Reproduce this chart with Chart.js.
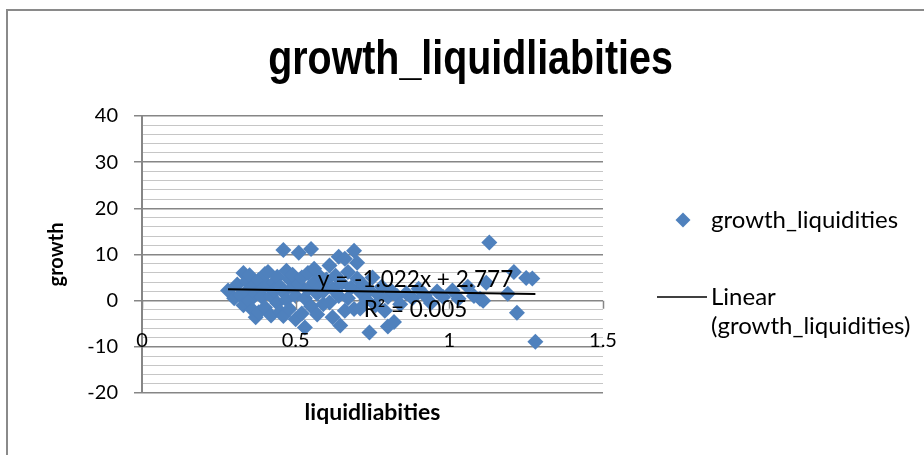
<!DOCTYPE html>
<html>
<head>
<meta charset="utf-8">
<title>growth_liquidliabities</title>
<script src="https://cdn.jsdelivr.net/npm/chart.js@4/dist/chart.umd.min.js"></script>
<style>
  html, body { margin: 0; padding: 0; background: #fff; }
  #wrap { width: 924px; height: 455px; position: relative; }
</style>
</head>
<body>
<div id="wrap"><canvas id="c" width="924" height="455"></canvas></div>
<script>
// Observations: liquid liabilities ratio (x) against growth (y)
const liquidliabities = [
  0.28, 0.30, 0.31, 0.32, 0.33, 0.33, 0.34, 0.34, 0.35, 0.35,
  0.36, 0.36, 0.37, 0.37, 0.38, 0.38, 0.39, 0.39, 0.40, 0.40,
  0.41, 0.41, 0.42, 0.42, 0.43, 0.43, 0.44, 0.44, 0.45, 0.45,
  0.46, 0.46, 0.46, 0.47, 0.47, 0.48, 0.48, 0.49, 0.49, 0.50,
  0.50, 0.51, 0.51, 0.52, 0.52, 0.53, 0.53, 0.54, 0.54, 0.55,
  0.55, 0.56, 0.56, 0.57, 0.57, 0.58, 0.58, 0.59, 0.59, 0.60,
  0.61, 0.61, 0.62, 0.62, 0.63, 0.64, 0.64, 0.645, 0.65, 0.66,
  0.66, 0.67, 0.67, 0.68, 0.69, 0.69, 0.70, 0.70, 0.71, 0.71,
  0.72, 0.73, 0.74, 0.74, 0.75, 0.76, 0.77, 0.78, 0.79, 0.80,
  0.80, 0.81, 0.82, 0.83, 0.84, 0.86, 0.88, 0.90, 0.92, 0.94,
  0.96, 0.98, 1.01, 1.03, 1.06, 1.08, 1.10, 1.11, 1.12, 1.13,
  1.19, 1.21, 1.22, 1.25, 1.27, 1.28
];
const growth = [
  2.2, 0.5, 3.5, 1.2, 6.0, -1.0, 4.2, 2.0, 0.0, 5.5,
  3.0, -2.0, -3.6, 1.5, -2.5, 4.5, 2.5, 0.8, 5.8, -1.5,
  3.2, 6.2, -3.2, 1.0, 4.0, 2.2, -0.5, 5.2, 3.0, -2.4,
  11.0, -3.3, 1.8, 6.5, 0.2, 4.6, -1.8, 2.8, 5.6, -4.0,
  1.0, 10.4, 3.6, -2.8, 5.0, -5.8, 0.5, 2.4, 6.0, 11.2,
  -1.2, 4.0, 6.9, 1.5, -3.0, 3.0, 5.2, -0.8, 2.0, 4.6,
  7.6, -0.4, -3.6, 2.6, 5.4, 9.5, 1.0, -5.4, 3.8, 9.1,
  -2.2, 6.2, 0.5, 2.8, 10.8, -1.8, 4.8, 8.2, -1.7, 1.8,
  3.4, 0.2, -6.9, 2.2, 5.0, -1.0, 1.2, 3.0, -2.2, -5.6,
  0.8, 2.2, -4.6, 1.0, -0.8, 1.6, 0.5, 2.6, 1.2, -0.5,
  2.0, 0.8, 2.2, 0.4, 3.0, 1.0, 0.4, 0.0, 3.9, 12.6,
  1.5, 6.2, -2.6, 4.9, 4.8, -8.9
];

// Fitted linear trend and its goodness of fit
const trendSlope = -1.022;
const trendIntercept = 2.777;
const trendR2 = 0.005;

// Axis ticks
const xTickValues = [0, 0.5, 1, 1.5];
const yTickLabels = [-20, -10, 0, 10, 20, 30, 40];

const chartTitle = 'growth_liquidliabities';
const seriesLabel = 'growth_liquidities';
const trendLabel = 'Linear (growth_liquidities)';

const BLUE = '#4F81BD';
const MAJOR = '#868686';
const MINOR = '#c6c6c6';
const FONT = 'Lato';

const points = liquidliabities.map((x, i) => ({ x, y: growth[i] }));
const xMin = Math.min(...liquidliabities);
const xMax = Math.max(...liquidliabities);
const trendPoints = [xMin, xMax].map(x => ({ x, y: trendSlope * x + trendIntercept }));

const fmt = v => (Math.abs(v) < 1e-9 ? '0' : String(v));

const decor = {
  id: 'decor',
  beforeDraw(chart) {
    const { ctx, width, height } = chart;
    ctx.save();
    ctx.fillStyle = '#fff';
    ctx.fillRect(0, 0, width, height);
    // chart frame
    ctx.strokeStyle = '#8a8a8a';
    ctx.lineWidth = 2;
    ctx.beginPath();
    ctx.moveTo(7, height + 2);
    ctx.lineTo(7, 10);
    ctx.lineTo(width + 2, 10);
    ctx.stroke();
    // condensed bold title
    ctx.fillStyle = '#000';
    ctx.font = 'bold 48px "Liberation Sans"';
    ctx.textAlign = 'center';
    ctx.textBaseline = 'alphabetic';
    ctx.translate(470.5, 74);
    ctx.scale(0.82, 1);
    ctx.fillText(chartTitle, 0, 0);
    ctx.restore();
  },
  afterDatasetsDraw(chart) {
    const { ctx, scales: { x, y } } = chart;
    ctx.save();
    // trendline equation
    ctx.fillStyle = '#000';
    ctx.font = `22.5px ${FONT}`;
    ctx.textAlign = 'center';
    ctx.textBaseline = 'middle';
    const sign = trendIntercept < 0 ? '-' : '+';
    const eq = `y = ${trendSlope.toFixed(3)}x ${sign} ${Math.abs(trendIntercept).toFixed(3)}`;
    const cx = x.getPixelForValue(0.89);
    ctx.fillText(eq, cx, y.getPixelForValue(4.5));
    ctx.fillText(`R\u00B2 = ${trendR2.toFixed(3)}`, cx, y.getPixelForValue(-2.0));
    ctx.restore();
  },
  afterDraw(chart) {
    const { ctx, scales: { x, y } } = chart;
    ctx.save();
    // horizontal axis tick marks and labels on the zero line
    const y0 = y.getPixelForValue(0);
    ctx.strokeStyle = MAJOR;
    ctx.lineWidth = 1.5;
    ctx.beginPath();
    xTickValues.forEach(v => {
      const px = Math.round(x.getPixelForValue(v)) + 0.5;
      ctx.moveTo(px, y0);
      ctx.lineTo(px, y0 + 8);
    });
    ctx.stroke();
    ctx.fillStyle = '#000';
    ctx.font = `20px ${FONT}`;
    ctx.textAlign = 'center';
    ctx.textBaseline = 'middle';
    xTickValues.forEach(v => ctx.fillText(fmt(v), x.getPixelForValue(v), y0 + 40));

    // legend
    ctx.font = `24px ${FONT}`;
    ctx.textAlign = 'left';
    ctx.fillStyle = BLUE;
    const dx = 683, dy = 220, r = 7.5;
    ctx.beginPath();
    ctx.moveTo(dx - r, dy); ctx.lineTo(dx, dy - r); ctx.lineTo(dx + r, dy); ctx.lineTo(dx, dy + r);
    ctx.closePath();
    ctx.fill();
    ctx.fillStyle = '#000';
    ctx.fillText(seriesLabel, 711, dy);
    ctx.strokeStyle = '#000';
    ctx.lineWidth = 1.5;
    ctx.beginPath();
    ctx.moveTo(657, 297); ctx.lineTo(707, 297);
    ctx.stroke();
    const parts = trendLabel.split(' ');
    ctx.fillText(parts[0], 711, 297);
    ctx.fillText(parts.slice(1).join(' '), 711, 326);
    ctx.restore();
  }
};

new Chart(document.getElementById('c'), {
  type: 'scatter',
  data: {
    datasets: [
      {
        type: 'line',
        label: trendLabel,
        data: trendPoints,
        borderColor: '#000',
        borderWidth: 2,
        pointRadius: 0,
        fill: false,
        order: 0
      },
      {
        label: seriesLabel,
        data: points,
        pointStyle: 'rectRot',
        pointRadius: 8,
        pointHoverRadius: 8,
        backgroundColor: BLUE,
        borderColor: BLUE,
        borderWidth: 0,
        order: 1
      }
    ]
  },
  options: {
    responsive: false,
    devicePixelRatio: 1,
    animation: false,
    events: [],
    layout: { padding: { left: 16, right: 321, top: 116, bottom: 0 } },
    plugins: {
      legend: { display: false },
      tooltip: { enabled: false },
      title: { display: false }
    },
    scales: {
      x: {
        type: 'linear',
        min: 0,
        max: 1.5,
        ticks: { display: false },
        grid: { display: false },
        border: { display: false },
        title: {
          display: true,
          text: 'liquidliabities',
          color: '#000',
          font: { family: FONT, weight: 'bold', size: 23, lineHeight: 1.2 },
          padding: { top: 0, bottom: 29 }
        },
        afterFit: s => { s.height = 62; }
      },
      y: {
        min: -20,
        max: 40,
        ticks: {
          stepSize: 2,
          autoSkip: false,
          padding: 16,
          color: '#000',
          font: { family: FONT, size: 20 },
          callback: v => (yTickLabels.includes(v) ? fmt(v) : '')
        },
        grid: {
          color: c => (c.tick && yTickLabels.includes(c.tick.value) ? MAJOR : MINOR),
          lineWidth: c => (c.tick && yTickLabels.includes(c.tick.value) ? 1.5 : 1),
          tickColor: c => (c.tick && yTickLabels.includes(c.tick.value) ? MAJOR : 'rgba(0,0,0,0)'),
          tickLength: 8
        },
        border: { color: MAJOR, width: 2 },
        title: {
          display: true,
          text: 'growth',
          color: '#000',
          font: { family: FONT, weight: 'bold', size: 20, lineHeight: 1.2 },
          padding: { top: 29, bottom: 0 }
        },
        afterFit: s => { s.width = 126; }
      }
    }
  },
  plugins: [decor]
});
</script>
</body>
</html>
